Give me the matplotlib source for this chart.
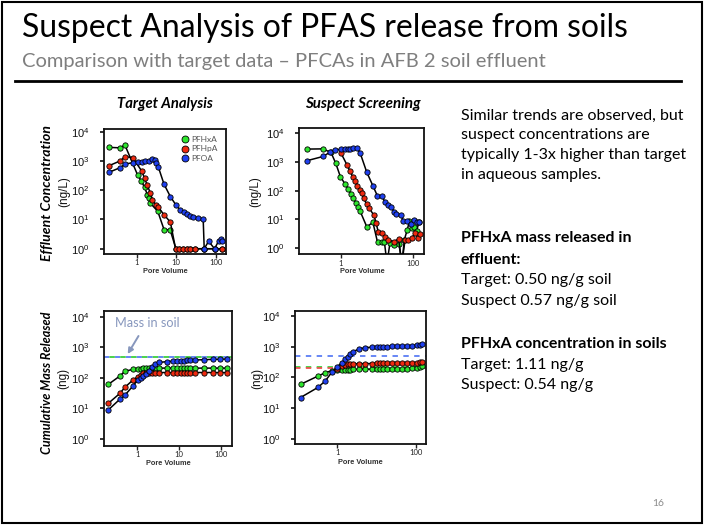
import matplotlib
matplotlib.use("Agg")
import matplotlib.pyplot as plt
from matplotlib.lines import Line2D
from matplotlib.patches import Rectangle

W, H = 705, 526
plt.rcParams['mathtext.fontset'] = 'custom'
plt.rcParams['mathtext.rm'] = 'Liberation Sans'
plt.rcParams['mathtext.it'] = 'Liberation Sans:italic'
plt.rcParams['font.family'] = ['Lato', 'DejaVu Sans']

# ---------------- data ----------------
series_names = ["PFHxA", "PFHpA", "PFOA"]
colors = {"PFHxA": "#2ee62e", "PFHpA": "#ee2a10", "PFOA": "#1f40f0"}

# Target analysis - effluent concentration (ng/L)
t_hx_x = [0.2, 0.38, 0.5, 1.05, 1.3, 1.57, 1.86, 2.0, 2.2, 3.4, 4.9, 7.0, 9.8, 12, 14.8, 18.6, 22, 29, 51, 93, 145]
t_hx_y = [2900, 2800, 3500, 330, 210, 125, 70, 55, 36, 19, 4.5, 4.4, 1, 1, 1, 1, 1, 1, 1, 1, 1]
t_hp_x = [0.2, 0.38, 0.5, 0.79, 1.35, 1.57, 1.86, 2.2, 2.5, 3.0, 3.4, 4.9, 7.1, 9.6, 12, 14.8, 18.6, 21.9, 29, 51, 93, 145]
t_hp_y = [690, 1000, 1400, 1300, 440, 257, 145, 80, 47, 32, 27.5, 14.5, 8.1, 1, 1, 1, 1, 1, 1, 1, 1, 1]
t_oa_x = [0.2, 0.38, 0.5, 0.79, 1.06, 1.34, 1.62, 2.1, 2.5, 2.9, 3.1, 3.5, 4.9, 7.1, 10, 12.6, 15.5, 18.6, 21.9, 27, 35, 48, 51, 66, 93, 120, 132, 145]
t_oa_y = [410, 590, 780, 870, 950, 950, 960, 1000, 1150, 1100, 830, 630, 160, 60, 30, 21, 17.8, 15, 13.3, 12.6, 11.2, 10.5, 1, 1.8, 1, 1.9, 2.1, 1.8]

# Suspect screening - effluent concentration (ng/L)
s_hx_x = [0.112, 0.31, 0.525, 0.71, 0.955, 1.29, 1.58, 1.86, 2.19, 2.51, 3.02, 3.39, 5.13, 7.59, 10.2, 13.2, 15.8, 18.6, 22.4, 28.2, 39.8, 47.9, 56.2, 67.6, 77.6, 91.2, 105, 123, 141]
s_hx_y = [2800, 2850, 2150, 910, 310, 170, 115, 76, 55, 37, 28, 19, 5.6, 7.9, 1.6, 1.7, 1.6, 0.3, 1.5, 1.3, 1.4, 0.3, 2.0, 4.4, 8.9, 5.0, 5.6, 4.0, 8.0]
s_hp_x = [1.0, 1.45, 1.78, 2.09, 2.45, 2.82, 3.24, 3.72, 4.17, 5.13, 6.03, 8.13, 9.33, 10.7, 13.2, 16.6, 20, 28.2, 38.9, 47.9, 58.9, 70.8, 89.1, 112, 132, 151]
s_hp_y = [2000, 800, 470, 310, 220, 150, 107, 81, 55, 34, 24.5, 13.8, 7.4, 3.6, 3.3, 2.5, 2.0, 1.7, 2.1, 0.3, 2.0, 2.0, 2.3, 3.3, 2.2, 3.1]
s_oa_x = [0.112, 0.316, 0.50, 0.676, 1.0, 1.26, 1.51, 1.82, 2.19, 2.69, 3.39, 5.13, 7.59, 10, 13.2, 16.6, 20.4, 24, 29.5, 33.1, 44.7, 52.5, 66.1, 83.2, 105, 123, 141]
s_oa_y = [1100, 1550, 2200, 2630, 2750, 2750, 2820, 2820, 2950, 3100, 2000, 440, 148, 68, 65, 40, 32, 28, 17.8, 15.8, 14.5, 8.9, 8.9, 7.1, 9.8, 8.5, 7.9]

# Target analysis - cumulative mass released (ng)
tc_x = [0.2, 0.38, 0.5, 0.78, 1.02, 1.2, 1.39, 1.61, 1.87, 2.25, 2.7, 3.24, 5.0, 7.1, 8.7, 11, 13.2, 15.8, 18.2, 24, 40, 66, 95, 138]
tc_hx = [61, 115, 165, 190, 200, 203, 205, 206, 207, 208, 209, 209, 209, 209, 209, 209, 209, 209, 209, 209, 209, 209, 209, 209]
tc_hp = [14.6, 31, 49, 85, 109, 123, 141, 148, 150, 150, 150, 150, 150, 150, 150, 150, 150, 150, 150, 150, 150, 150, 150, 150]
tc_oa = [8.9, 20, 27, 54, 85, 100, 115, 132, 170, 234, 282, 320, 340, 355, 360, 365, 370, 375, 378, 385, 395, 405, 410, 415]
tc_soil = 490

# Suspect screening - cumulative mass released (ng)
sc_x = [0.115, 0.32, 0.49, 0.72, 1.0, 1.29, 1.58, 1.82, 2.09, 2.57, 3.47, 5.13, 7.59, 10, 12.3, 14.8, 18.2, 24.5, 32.4, 43.7, 58.9, 79.4, 107, 126, 141]
sc_hx = [59, 110, 141, 165, 172, 175, 178, 180, 180, 182, 183, 185, 185, 185, 186, 186, 187, 188, 188, 190, 192, 195, 200, 215, 235]
sc_hp_x = [1.0, 1.29, 1.58, 1.82, 2.09, 2.57, 3.47, 5.13, 7.59, 10, 12.3, 14.8, 18.2, 24.5, 32.4, 43.7, 58.9, 79.4, 107, 126, 141]
sc_hp = [190, 230, 255, 265, 270, 275, 278, 280, 282, 283, 284, 285, 285, 286, 287, 288, 290, 292, 298, 305, 315]
sc_oa = [22, 47, 76, 146, 224, 300, 390, 470, 575, 690, 830, 930, 955, 970, 985, 1000, 1010, 1020, 1040, 1050, 1060, 1080, 1100, 1150, 1200]
sc_soil = {"PFOA": 500, "PFHxA": 222, "PFHpA": 200}

ytick_vals = [1, 10, 100, 1000, 10000]
ytick_labels = ["$10^{0}$", "$10^{1}$", "$10^{2}$", "$10^{3}$", "$10^{4}$"]

# ---------------- figure ----------------
fig = plt.figure(figsize=(W / 100, H / 100), dpi=100)
fig.patch.set_facecolor("white")
renderer = fig.canvas.get_renderer()


def px_axes(l, t, r, b):
    return fig.add_axes([l / W, 1 - b / H, (r - l) / W, (b - t) / H])


def fit_text(x, y, s, length, vertical=False, **kw):
    t = fig.text(x / W, 1 - y / H, s, **kw)
    bb = t.get_window_extent(renderer=renderer)
    cur = bb.height if vertical else bb.width
    t.set_fontsize(t.get_fontsize() * length / cur)
    return t


def style_axes(ax, xlim, ylim, xticks, xticklabels):
    ax.set_xscale("log")
    ax.set_yscale("log")
    ax.set_xlim(*xlim)
    ax.set_ylim(*ylim)
    ax.set_yticks(ytick_vals)
    ax.set_yticklabels(ytick_labels)
    ax.set_xticks(xticks)
    ax.set_xticklabels(xticklabels)
    ax.minorticks_off()
    for sp in ax.spines.values():
        sp.set_linewidth(1.3)
        sp.set_color("#111111")
    ax.tick_params(axis="y", direction="out", length=3, width=1.2, pad=7.5,
                   labelsize=8, colors="#111111")
    ax.tick_params(axis="x", direction="out", length=3, width=1.0, pad=0.8,
                   labelsize=5.5, colors="#222222")


def plot_series(ax, x, y, name):
    ax.plot(x, y, color="black", lw=1.1, marker="o", ms=3.8,
            mfc=colors[name], mec="black", mew=0.6, zorder=3)


# Panel 1: target effluent
ax1 = px_axes(104, 129.3, 226.5, 254)
style_axes(ax1, (0.148, 187), (10 ** -0.18, 10 ** 4.08), [1, 10, 100], ["1", "10", "100"])
plot_series(ax1, t_hx_x, t_hx_y, "PFHxA")
plot_series(ax1, t_hp_x, t_hp_y, "PFHpA")
plot_series(ax1, t_oa_x, t_oa_y, "PFOA")
handles = [Line2D([], [], ls="none", marker="o", ms=5, mfc=colors[n], mec="black", mew=0.6)
           for n in series_names]
ax1.legend(handles, series_names, loc="upper left", bbox_to_anchor=(0.59, 0.99),
           frameon=False, fontsize=6, labelcolor="#555555", handlelength=0.8,
           handletextpad=0.25, labelspacing=0.25, borderpad=0.2)

# Panel 2: suspect effluent
ax2 = px_axes(299.3, 128.3, 424, 254.3)
style_axes(ax2, (0.07, 196), (10 ** -0.21, 10 ** 4.17), [1, 100], ["1", "100"])
plot_series(ax2, s_hx_x, s_hx_y, "PFHxA")
plot_series(ax2, s_hp_x, s_hp_y, "PFHpA")
plot_series(ax2, s_oa_x, s_oa_y, "PFOA")

# Panel 3: target cumulative
ax3 = px_axes(104, 310.7, 231.7, 446)
style_axes(ax3, (10 ** -0.8, 10 ** 2.26), (10 ** -0.23, 10 ** 4.2), [1, 10, 100], ["1", "10", "100"])
ax3.axhline(tc_soil, color="#5a7df5", lw=1.3, ls=(0, (3, 3)), zorder=2)
ax3.axhline(tc_soil, color="#3ccf3c", lw=1.3, ls=(3, (3, 3)), zorder=2)
plot_series(ax3, tc_x, tc_hx, "PFHxA")
plot_series(ax3, tc_x, tc_hp, "PFHpA")
plot_series(ax3, tc_x, tc_oa, "PFOA")

# Panel 4: suspect cumulative
ax4 = px_axes(295, 310.7, 426, 444)
style_axes(ax4, (10 ** -1.08, 10 ** 2.26), (10 ** -0.17, 10 ** 4.17), [1, 100], ["1", "100"])
ax4.axhline(sc_soil["PFOA"], color="#5a7df5", lw=1.3, ls=(0, (3, 3)), zorder=2)
ax4.axhline(sc_soil["PFHxA"], color="#3ccf3c", lw=1.3, ls=(0, (3, 3)), zorder=2)
ax4.axhline(sc_soil["PFHpA"], color="#f05050", lw=1.3, ls=(0, (3, 3)), zorder=2)
plot_series(ax4, sc_x, sc_hx, "PFHxA")
plot_series(ax4, sc_hp_x, sc_hp, "PFHpA")
plot_series(ax4, sc_x, sc_oa, "PFOA")

# Axis texts
for cx, y in [(165, 271.5), (362, 271.5), (168, 463.5), (360, 462.5)]:
    fig.text(cx / W, 1 - y / H, "Pore Volume", fontsize=5.3, fontweight="bold",
             family=["Liberation Sans"], ha="center", va="center", color="#333333")
for x, y, s in [(64, 192, "(ng/L)"), (255, 192, "(ng/L)"), (63, 378, "(ng)"), (257, 378, "(ng)")]:
    fig.text(x / W, 1 - y / H, s, fontsize=8.5, family=["Liberation Sans"], rotation=90,
             ha="center", va="center", color="#111111")

fit_text(47, 193, "Effluent Concentration", 136, vertical=True, rotation=90,
         ha="center", va="center", fontweight="bold", style="italic", fontsize=9)
fit_text(47, 383, "Cumulative Mass Released", 143, vertical=True, rotation=90,
         ha="center", va="center", fontweight="bold", style="italic", fontsize=9)
fit_text(165, 108.3, "Target Analysis", 96, ha="center", va="baseline",
         fontweight="bold", style="italic", fontsize=9)
fit_text(363, 108.3, "Suspect Screening", 116, ha="center", va="baseline",
         fontweight="bold", style="italic", fontsize=9)

# Mass in soil annotation
fit_text(115, 327, "Mass in soil", 64, ha="left", va="baseline", color="#8797bd", fontsize=9)
ax3.annotate("", xy=(127.7 / W, 1 - 354 / H), xytext=(138.5 / W, 1 - 336 / H),
             xycoords="figure fraction", textcoords="figure fraction",
             arrowprops=dict(arrowstyle="-|>", color="#8797bd", lw=1.4,
                             mutation_scale=8, shrinkA=0, shrinkB=0))

# Title and subtitle
fit_text(22, 37.3, "Suspect Analysis of PFAS release from soils", 603,
         ha="left", va="baseline", color="black", fontsize=22)
fit_text(22, 66.7, "Comparison with target data \u2013 PFCAs in AFB 2 soil effluent", 523,
         ha="left", va="baseline", color="#7f7f7f", fontsize=13)
fig.add_artist(Line2D([15 / W, 681 / W], [1 - 81 / H, 1 - 81 / H], color="black", lw=2.0))

# Right-hand text
ref = fit_text(461, 159.3, "typically 1-3x higher than target", 224,
               ha="left", va="baseline", fontsize=12)
fs = ref.get_fontsize()
body = [
    (119.5, "Similar trends are observed, but", "normal"),
    (139.5, "suspect concentrations are", "normal"),
    (179.3, "in aqueous samples.", "normal"),
    (242.5, "PFHxA mass released in", "bold"),
    (263.5, "effluent:", "bold"),
    (284.0, "Target: 0.50 ng/g soil", "normal"),
    (305.0, "Suspect 0.57 ng/g soil", "normal"),
    (347.5, "PFHxA concentration in soils", "bold"),
    (368.5, "Target: 1.11 ng/g", "normal"),
    (389.5, "Suspect: 0.54 ng/g", "normal"),
]
for y, s, wgt in body:
    fig.text(461 / W, 1 - y / H, s, fontsize=fs, fontweight=wgt, ha="left",
             va="baseline", color="black")

fig.text(658 / W, 1 - 503 / H, "16", fontsize=7.5, color="#8c8c8c", ha="center", va="center")

# Slide frame
fig.add_artist(Rectangle((2 / W, 1 - 523 / H), 700 / W, 521 / H, fill=False,
                         lw=1.5, ec="black", transform=fig.transFigure))

fig.savefig("out.png", dpi=100)
